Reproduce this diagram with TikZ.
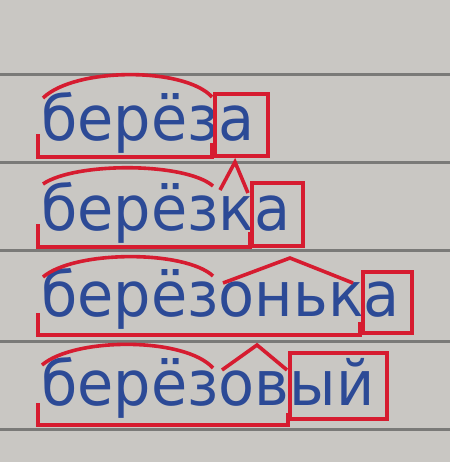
\documentclass[tikz,border=0pt]{standalone}
\usepackage{fontspec}
\newfontfamily\wordfont[FakeStretch=0.95]{DejaVu Sans}
\usetikzlibrary{positioning}
\definecolor{paper}{RGB}{201,199,195}
\definecolor{rule}{RGB}{122,122,120}
\definecolor{ink}{RGB}{44,74,150}
\definecolor{mark}{RGB}{214,28,48}
\tikzstyle{word} = [anchor=base west, inner sep=0pt, text=ink, font=\wordfont\fontsize{31}{31}\selectfont]
\tikzstyle{ruleline} = [draw=rule, line width=1.5pt]
\tikzstyle{morph} = [draw=mark, line width=1.8pt, line join=miter]

\begin{document}
\begin{tikzpicture}[x=0.5pt,y=-0.5pt]
    \fill[paper] (0,0) rectangle (450,462);
    \useasboundingbox (0,0) rectangle (450,462);
    % ruled lines
    \foreach \y in {74,162,250,341,429}
        \draw[ruleline] (0,\y) -- (450,\y);

    % words
    \node[word] (bereza)    at (41,140) {берёза};
    \node[word] (berezka)   at (41,230) {берёзка};
    \node[word] (berezonka) at (41,316) {берёзонька};
    \node[word] (berezovyj) at (41,405) {берёзовый};

    % берёза
    \draw[morph] (43,98) .. controls (75,67) and (185,67) .. (212,97);
    \draw[morph] (215,94) rectangle (268,156);
    \draw[morph] (38,134) |- (212,157) -- (212,143);

    % берёзка
    \draw[morph] (43,184) .. controls (75,162) and (185,162) .. (213,186);
    \draw[morph] (220,190) -- (235,162) -- (248,193);
    \draw[morph] (252,183) rectangle (303,246);
    \draw[morph] (38,224) |- (250,247) -- (250,232);

    % берёзонька
    \draw[morph] (43,277) .. controls (75,250) and (185,250) .. (213,276);
    \draw[morph] (223,283) -- (290,258) -- (353,283);
    \draw[morph] (363,272) rectangle (412,333);
    \draw[morph] (38,313) |- (360,335) -- (360,322);

    % берёзовый
    \draw[morph] (42,365) .. controls (75,337) and (185,337) .. (213,368);
    \draw[morph] (222,370) -- (257,345) -- (287,370);
    \draw[morph] (290,353) rectangle (387,419);
    \draw[morph] (38,403) |- (288,425) -- (288,413);
\end{tikzpicture}
\end{document}
